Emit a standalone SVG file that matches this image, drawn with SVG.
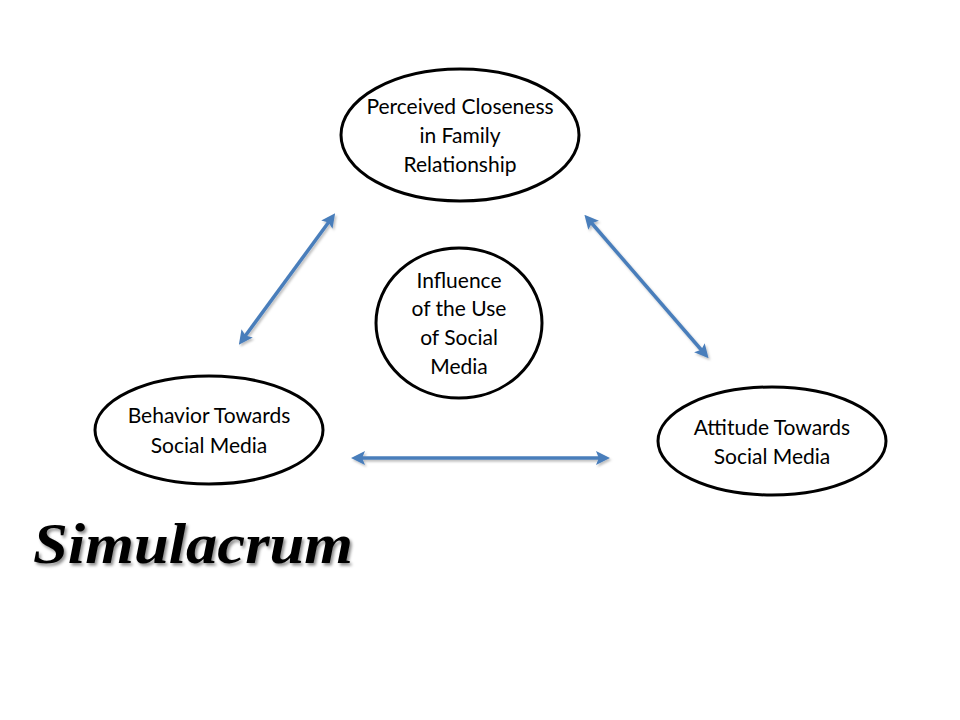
<svg xmlns="http://www.w3.org/2000/svg" width="960" height="720" viewBox="0 0 960 720">
<style>
.node ellipse{fill:#fff;stroke:#000;stroke-width:3}
.node text{font-family:Lato,"Open Sans","Liberation Sans",sans-serif;font-size:21px;fill:#000;text-anchor:middle}
.conn line{stroke:#4a7ebb;stroke-width:3.5}
.title{font-family:"Liberation Serif","DejaVu Serif",serif;font-weight:bold;font-style:italic;font-size:58px;fill:#000}
</style>
<defs>
<marker id="ah" viewBox="0 0 10 10" refX="5" refY="5" markerWidth="4" markerHeight="4" orient="auto-start-reverse" markerUnits="strokeWidth">
<path d="M0,0 L10,5 L0,10 L2,5 z" fill="#4a7ebb"/>
</marker>
<filter id="sh" x="-10%" y="-10%" width="130%" height="130%">
<feDropShadow dx="1.5" dy="2" stdDeviation="1.2" flood-color="#000" flood-opacity="0.25"/>
</filter>
<filter id="tsh" x="-5%" y="-10%" width="115%" height="130%">
<feDropShadow dx="2" dy="2.5" stdDeviation="1.5" flood-color="#000" flood-opacity="0.45"/>
</filter>
</defs>
<rect width="960" height="720" fill="#fff"/>
<g id="connectors" class="conn" filter="url(#sh)">
<line x1="243" y1="339" x2="331" y2="219" marker-start="url(#ah)" marker-end="url(#ah)"/>
<line x1="589" y1="220" x2="704" y2="353" marker-start="url(#ah)" marker-end="url(#ah)"/>
<line x1="358" y1="458" x2="603" y2="458" marker-start="url(#ah)" marker-end="url(#ah)"/>
</g>
<g id="perceived" class="node">
<ellipse cx="460" cy="135" rx="119" ry="66"/>
<text x="460" y="114">Perceived Closeness</text>
<text x="460" y="143">in Family</text>
<text x="460" y="172">Relationship</text>
</g>
<g id="influence" class="node">
<ellipse cx="459" cy="323" rx="83" ry="75"/>
<text x="459" y="288">Influence</text>
<text x="459" y="316">of the Use</text>
<text x="459" y="345">of Social</text>
<text x="459" y="374">Media</text>
</g>
<g id="behavior" class="node">
<ellipse cx="209" cy="430" rx="114" ry="54"/>
<text x="209" y="423">Behavior Towards</text>
<text x="209" y="453">Social Media</text>
</g>
<g id="attitude" class="node">
<ellipse cx="772" cy="441" rx="114" ry="54"/>
<text x="772" y="435">Attitude Towards</text>
<text x="772" y="464">Social Media</text>
</g>
<text class="title" x="33" y="563" textLength="320" lengthAdjust="spacingAndGlyphs" filter="url(#tsh)">Simulacrum</text>
</svg>
